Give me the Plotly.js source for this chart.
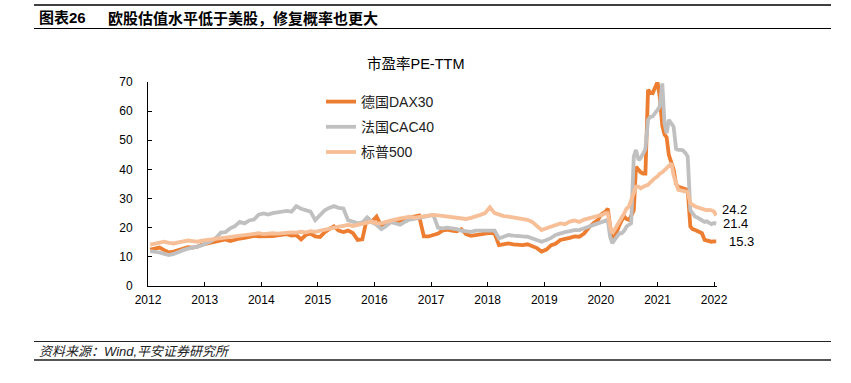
<!DOCTYPE html>
<html>
<head>
<meta charset="utf-8">
<script src="https://cdn.plot.ly/plotly-3.0.1.min.js"></script>
<style>html,body{margin:0;padding:0;background:#fff;}#chart{width:851px;height:383px;}</style>
</head>
<body>
<div id="chart"></div>
<script>
const dates = [
'2012-01-15','2012-02-15','2012-03-15','2012-04-15','2012-05-15','2012-06-15','2012-07-15','2012-08-15','2012-09-15','2012-10-15','2012-11-15','2012-12-15',
'2013-01-15','2013-02-15','2013-03-15','2013-04-15','2013-05-15','2013-06-15','2013-07-15','2013-08-15','2013-09-15','2013-10-15','2013-11-15','2013-12-15',
'2014-01-15','2014-02-15','2014-03-15','2014-04-15','2014-05-15','2014-06-15','2014-07-15','2014-08-15','2014-09-15','2014-10-15','2014-11-15','2014-12-15',
'2015-01-15','2015-02-15','2015-03-15','2015-04-15','2015-05-15','2015-06-15','2015-07-15','2015-08-15','2015-09-15','2015-10-15','2015-11-15','2015-12-15',
'2016-01-15','2016-02-15','2016-03-15','2016-04-15','2016-05-15','2016-06-15','2016-07-15','2016-08-15','2016-09-15','2016-10-15','2016-11-15','2016-12-15',
'2017-01-15','2017-02-15','2017-03-15','2017-04-15','2017-05-15','2017-06-15','2017-07-15','2017-08-15','2017-09-15','2017-10-15','2017-11-15','2017-12-15',
'2018-01-15','2018-02-15','2018-03-15','2018-04-15','2018-05-15','2018-06-15','2018-07-15','2018-08-15','2018-09-15','2018-10-15','2018-11-15','2018-12-15',
'2019-01-15','2019-02-15','2019-03-15','2019-04-15','2019-05-15','2019-06-15','2019-07-15','2019-08-15','2019-09-15','2019-10-15','2019-11-15','2019-12-15',
'2020-01-01','2020-01-15','2020-02-01','2020-02-15','2020-03-01','2020-03-15','2020-04-01','2020-04-15','2020-05-01','2020-05-15','2020-06-01','2020-06-15',
'2020-07-01','2020-07-15','2020-08-01','2020-08-15','2020-09-01','2020-09-15','2020-10-01','2020-10-15','2020-11-01','2020-11-15','2020-12-01','2020-12-15',
'2021-01-01','2021-01-15','2021-02-01','2021-02-15','2021-03-01','2021-03-15','2021-04-01','2021-04-15','2021-05-01','2021-05-15','2021-06-01','2021-06-15',
'2021-07-01','2021-07-15','2021-08-01','2021-08-15','2021-09-01','2021-09-15','2021-10-01','2021-10-15','2021-11-01','2021-11-15','2021-12-01','2021-12-15',
'2022-01-01','2022-01-15'
];

const dax30 = [
12.5,13,13.2,12.3,11.5,11.8,12.4,12.8,13.3,13.2,13.5,14.2,
14.6,14.8,15.2,15.5,16,15.4,16,16.3,16.5,16.8,17.2,17,
17,17.2,17.1,17.4,17.6,17.8,17.3,17.5,16,17.5,18,17,
16.8,18.5,19.5,20.5,19,18.5,19,18.2,15.8,16,23.5,22,
23.8,20.5,20.8,22,21.8,22.5,23,23.5,24,24.2,17,17,
17.5,18,19,19.3,19,18.8,19.5,17.8,17.2,17.5,18,18,
18.2,18,14,14.2,14.6,14.3,14,14,14.3,13.5,13,11.8,
12.5,14,14.5,15.8,16,16.5,17,16.9,18,20,21.5,22.7,
24.4,25,25.5,26.6,19.2,15.2,17,19.2,21,22.5,23.8,23,
22.7,24,26,40.9,39.8,39,38.6,38.6,67.3,66.5,66.2,68,
70,65,55,52,51,45,42,40,35,34,33.8,33.5,
33.5,33,20.4,19.5,19.2,18.8,18.5,18.1,15.8,15.6,15.5,15.2,
15.3,15.3
];

const cac40 = [
12,11.8,11.5,11,10.6,11,11.8,12.3,12.8,13,13.5,14,
14.6,15.5,16.5,18.3,18.5,19.8,20.5,22,21.5,22.5,22.8,24.5,
24.9,24.5,25,25.2,25.5,25.8,25.5,27.4,26.5,26,25.5,22.6,
24.5,26,26.8,27.4,26.8,26.6,22.6,22,21.5,21.8,23.5,22,
21,19.5,20.5,22,21.5,21,22,22.8,23,23.3,23.5,24,
24.4,20,19.8,20,19.8,19.5,19,18.7,18.6,19,19,19.2,
19.2,19,16.3,17,17.5,17.3,17,17,16.9,16.3,15.8,15.2,
15.8,16.5,17.5,18.1,18.5,18.8,19.2,19.2,19.8,20.4,21,21.5,
21.8,22,22.5,22.7,17,14.7,16,17,18.1,18.1,19,20.4,
20.8,21.5,44.4,46.7,43.2,44,45.5,47,57,58,58.2,59,
60.4,61.6,69.5,56,52.4,57,56,54.7,47,46.7,46.7,46.5,
45.6,44.4,26,25,23.8,23.5,23,22.5,22,22.2,21.5,21.2,
21.6,21.4
];

const sp500 = [
14.2,14.6,15,15.2,14.8,14.6,15,15.2,15.6,15.4,15.2,15.6,
15.8,16,16.4,16.6,16.9,16.8,17.2,17.4,17.5,17.7,18,18.1,
17.8,18,18.1,18,18.2,18.5,18.4,18.3,18.6,18.4,18.8,18.6,
19,19.5,19.7,20,20.4,20.6,21,20.6,21,21.5,22,22.1,
21.5,21.5,22,22.5,23,23.2,23.5,23.8,23.5,23.8,24,24.4,
24.4,24.2,24,23.8,23.8,23.5,23.2,23,23.4,23.8,24.4,25,
27,25,24.4,24,23.8,23.5,23.2,23,22.7,22,20.5,19.2,
19.8,20.4,20.9,21.5,21.2,22.1,22.5,22,22.8,23.2,23.5,24,
24,24.5,25,25,20.4,18.1,19.5,21,22.7,23.5,25,26.5,
27.3,29.5,31.9,34.1,34.1,33.5,34.1,34.5,34.7,35.5,36.5,37,
37.6,38.5,39,39.8,40.5,41,42.1,38,35.2,33,32.8,32.5,
32.4,32.2,28.4,27.8,27.3,27,26.8,26.5,26.1,26,26.1,26,
25.5,24.2
];

const seriesNames = ['德国DAX30','法国CAC40','标普500'];
const yearTicks = ['2012-01-01','2013-01-01','2014-01-01','2015-01-01','2016-01-01','2017-01-01','2018-01-01','2019-01-01','2020-01-01','2021-01-01','2022-01-01'];
const yearLabels = ['2012','2013','2014','2015','2016','2017','2018','2019','2020','2021','2022'];

const C_DAX = '#ED7D31', C_CAC = '#C0C0C0', C_SP = '#F7BF98';
const FONT_LAT = 'Liberation Sans, Arial, Noto Sans CJK SC, sans-serif';
const FONT_CJK = 'Noto Sans CJK SC, Liberation Sans, sans-serif';

// pixel helpers for paper coords (plot area: x 148..717, y 82..286)
const L = 148, R = 717, T = 82, B = 286;
const px = x => (x - L) / (R - L);
const py = y => (B - y) / (B - T);

const traces = [
  {x: dates, y: dax30, name: seriesNames[0], legendgroup: 'a', type: 'scatter', mode: 'lines', line: {color: C_DAX, width: 3.8}},
  {x: dates, y: cac40, name: seriesNames[1], legendgroup: 'b', type: 'scatter', mode: 'lines', line: {color: C_CAC, width: 3.8}},
  {x: dates, y: sp500, name: seriesNames[2], legendgroup: 'c', type: 'scatter', mode: 'lines', line: {color: C_SP, width: 3.8}}
];

const lastDate = dates[dates.length - 1];
const lineShape = (x0, x1, y, w, c) => ({type: 'line', xref: 'paper', yref: 'paper', x0: px(x0), x1: px(x1), y0: py(y), y1: py(y), line: {color: c, width: w}});

const layout = {
  width: 851, height: 383,
  margin: {l: L, r: 851 - R, t: T, b: 383 - B, pad: 0},
  paper_bgcolor: '#fff', plot_bgcolor: '#fff',
  showlegend: true,
  legend: {x: px(321), y: py(86), xanchor: 'left', yanchor: 'top', bgcolor: 'rgba(0,0,0,0)',
           font: {family: FONT_LAT, size: 14, color: '#222'}, tracegroupgap: 4, itemwidth: 30, traceorder: 'grouped'},
  xaxis: {type: 'date', range: ['2012-01-01', '2022-01-20'], tickmode: 'array', tickvals: yearTicks, ticktext: yearLabels,
          showline: true, linecolor: '#000', linewidth: 1, ticks: 'inside', ticklen: 4, tickcolor: '#000', tickwidth: 1,
          showgrid: false, zeroline: false, tickfont: {family: FONT_LAT, size: 12, color: '#000'}, ticklabelstandoff: 3, fixedrange: true},
  yaxis: {range: [0, 70], dtick: 10, tick0: 0, showline: true, linecolor: '#000', linewidth: 1, ticks: 'inside', ticklen: 4,
          tickcolor: '#000', showgrid: false, zeroline: false, tickfont: {family: FONT_LAT, size: 12, color: '#000'},
          ticklabelstandoff: 12, fixedrange: true},
  shapes: [
    lineShape(34, 831, 5, 1.5, '#000'),
    lineShape(34, 831, 28.5, 1.2, '#000'),
    lineShape(34, 831, 341.5, 1.2, '#222'),
    lineShape(34, 831, 360, 2, '#555')
  ],
  annotations: [
    {xref: 'paper', yref: 'paper', x: px(37), y: py(17), xanchor: 'left', yanchor: 'middle', showarrow: false,
     text: '<b>图表26</b>', font: {family: FONT_LAT, size: 15, color: '#000'}},
    {xref: 'paper', yref: 'paper', x: px(106), y: py(17), xanchor: 'left', yanchor: 'middle', showarrow: false,
     text: '<b>欧股估值水平低于美股，修复概率也更大</b>', font: {family: FONT_CJK, size: 15, color: '#000'}},
    {xref: 'paper', yref: 'paper', x: px(415), y: py(64), xanchor: 'center', yanchor: 'middle', showarrow: false,
     text: '市盈率PE-TTM', font: {family: FONT_LAT, size: 14.5, color: '#000'}},
    {xref: 'paper', yref: 'paper', x: px(37), y: py(351), xanchor: 'left', yanchor: 'middle', showarrow: false,
     text: '<i>资料来源：Wind,平安证券研究所</i>', font: {family: FONT_LAT, size: 13, color: '#222'}},
    {xref: 'x', yref: 'y', x: lastDate, y: sp500[sp500.length - 1], xanchor: 'left', yanchor: 'middle', xshift: 4, yshift: 6, showarrow: false,
     text: String(sp500[sp500.length - 1]), font: {family: FONT_LAT, size: 13, color: '#000'}},
    {xref: 'x', yref: 'y', x: lastDate, y: cac40[cac40.length - 1], xanchor: 'left', yanchor: 'middle', xshift: 5, yshift: 0, showarrow: false,
     text: String(cac40[cac40.length - 1]), font: {family: FONT_LAT, size: 13, color: '#000'}},
    {xref: 'x', yref: 'y', x: lastDate, y: dax30[dax30.length - 1], xanchor: 'left', yanchor: 'middle', xshift: 11, yshift: 0, showarrow: false,
     text: String(dax30[dax30.length - 1]), font: {family: FONT_LAT, size: 13, color: '#000'}}
  ]
};

Plotly.newPlot('chart', traces, layout, {displayModeBar: false, staticPlot: true});
</script>
</body>
</html>
